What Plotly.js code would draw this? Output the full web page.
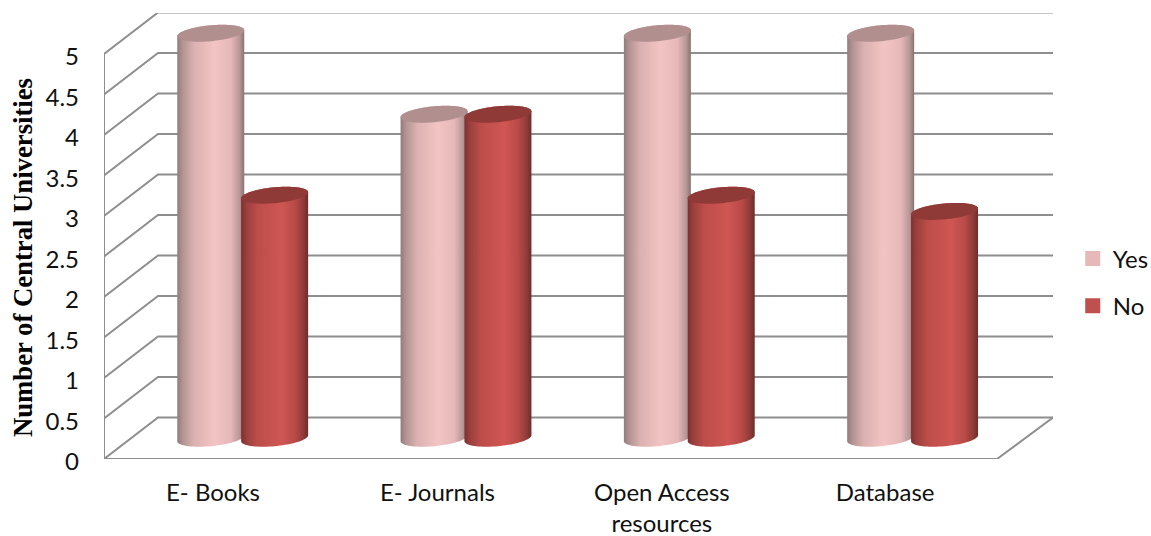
<!DOCTYPE html>
<html>
<head>
<meta charset="utf-8">
<script src="https://cdn.plot.ly/plotly-3.0.1.min.js"></script>
<style>html,body{margin:0;padding:0;background:#fff;overflow:hidden}</style>
</head>
<body>
<div id="chart" style="width:1151px;height:536px"></div>
<script>
// Availability of e-resources across central universities
const categories = ['E- Books', 'E- Journals', 'Open Access<br>resources', 'Database'];
const yesValues = [5, 4, 5, 5];
const noValues = [3, 4, 3, 2.8];
const yTicks = [0, 0.5, 1, 1.5, 2, 2.5, 3, 3.5, 4, 4.5, 5];
const yTickLabels = ['0', '0.5', '1', '1.5', '2', '2.5', '3', '3.5', '4', '4.5', '5'];
const categoryTicks = [0, 1.005, 2.01, 3.01];

// Oblique box: how far the back wall is shifted from the front plane, in axis units
const X_MIN = -0.4881, X_MAX = 3.7617, FRONT_RIGHT = 3.511;
const DEPTH_X = 0.2418, DEPTH_Y = 0.5123;
const WALL_COLOR = '#8e8e8e';

// Cylinder geometry in axis units
const RADIUS_X = 0.15, RADIUS_Y = 0.098, TILT = 0.037;
const BASE_Y = DEPTH_Y / 2;
const YES_OFFSET = -0.01, NO_OFFSET = 0.276;

const yesBody = [[0, '#937b7b'], [0.08, '#b29393'], [0.25, '#dcb1b1'], [0.55, '#f3c4c4'], [0.8, '#e6b8b8'], [0.93, '#b79797'], [1, '#8a7272']];
const noBody = [[0, '#7c312f'], [0.08, '#9a3f3d'], [0.25, '#bd4d4a'], [0.6, '#cf5653'], [0.8, '#b94b48'], [0.93, '#8f3b39'], [1, '#6d2c2a']];
const yesLid = '#b18f8f';
const noLid = '#903a38';

function ellipsePoint(cx, cy, t) {
  return [cx + RADIUS_X * Math.cos(t), cy + RADIUS_Y * Math.sin(t) + TILT * Math.cos(t)];
}

function arc(cx, cy, from, to, steps) {
  const pts = [];
  for (let i = 0; i <= steps; i++) pts.push(ellipsePoint(cx, cy, from + (to - from) * i / steps));
  return pts;
}

function cylinderTraces(cx, value, bodyScale, lidColor) {
  const top = BASE_Y + value;
  const outline = arc(cx, BASE_Y, Math.PI, 2 * Math.PI, 40).concat(arc(cx, top, 0, Math.PI, 40));
  outline.push(outline[0]);
  const lid = arc(cx, top, 0, 2 * Math.PI, 80);
  return [
    {
      type: 'scatter', mode: 'none', fill: 'toself', showlegend: false, hoverinfo: 'skip',
      x: outline.map(p => p[0]), y: outline.map(p => p[1]),
      fillgradient: { type: 'horizontal', colorscale: bodyScale }
    },
    {
      type: 'scatter', mode: 'none', fill: 'toself', showlegend: false, hoverinfo: 'skip',
      x: lid.map(p => p[0]), y: lid.map(p => p[1]), fillcolor: lidColor
    }
  ];
}

function wallLine(x, y) {
  return {
    type: 'scatter', mode: 'lines', showlegend: false, hoverinfo: 'skip', cliponaxis: false,
    x: x, y: y, line: { color: WALL_COLOR, width: 2, shape: 'linear' }
  };
}

const traces = [];

// Left wall and back wall gridlines, one per tick
yTicks.forEach(v => {
  traces.push(wallLine([X_MIN, X_MIN + DEPTH_X, X_MAX], [v, v + DEPTH_Y, v + DEPTH_Y]));
});
traces.push(wallLine([X_MIN, X_MIN], [0, 5]));
// Floor edge
traces.push(wallLine([X_MIN, FRONT_RIGHT, X_MAX], [0, 0, DEPTH_Y]));

// One cylinder per value; the No column sits over its Yes neighbour
categories.forEach((c, i) => {
  traces.push(...cylinderTraces(i + YES_OFFSET, yesValues[i], yesBody, yesLid));
  traces.push(...cylinderTraces(i + NO_OFFSET, noValues[i], noBody, noLid));
});

// Legend keys
traces.push({
  type: 'scatter', mode: 'markers', name: 'Yes', legendgroup: 'yes', x: [null], y: [null],
  marker: { symbol: 'square', size: 15, color: '#e6b8b7' }
});
traces.push({
  type: 'scatter', mode: 'markers', name: 'No', legendgroup: 'no', x: [null], y: [null],
  marker: { symbol: 'square', size: 15, color: '#c0504d' }
});

const layout = {
  width: 1151, height: 536,
  margin: { l: 104, r: 98, t: 13, b: 77, pad: 0 },
  paper_bgcolor: '#fff', plot_bgcolor: 'rgba(0,0,0,0)',
  font: { family: 'Lato, sans-serif', size: 24, color: '#111' },
  hovermode: false,
  xaxis: {
    type: 'linear', range: [X_MIN, X_MAX], showgrid: false, zeroline: false, showline: false,
    tickmode: 'array', tickvals: categoryTicks, ticktext: categories, ticks: '',
    ticklabelstandoff: 17, tickfont: { family: 'Lato, sans-serif', size: 24, color: '#111' }
  },
  yaxis: {
    type: 'linear', range: [0, 5.506], showgrid: false, zeroline: false, showline: false,
    tickmode: 'array', tickvals: yTicks, ticktext: yTickLabels, ticks: '',
    ticklabelstandoff: 24, ticklabelshift: 3, tickfont: { family: 'Lato, sans-serif', size: 24, color: '#111' }
  },
  showlegend: true,
  legend: {
    xref: 'container', yref: 'container',
    x: 0.932, y: 0.559, xanchor: 'left', yanchor: 'top', bgcolor: 'rgba(0,0,0,0)',
    font: { family: 'Lato, sans-serif', size: 24, color: '#111' },
    tracegroupgap: 13, itemclick: false, itemdoubleclick: false
  },
  annotations: [{
    text: '<b>Number of Central Universities</b>', textangle: -90, showarrow: false,
    xref: 'paper', yref: 'paper', x: 0, y: 0.5, xanchor: 'center', yanchor: 'middle',
    xshift: -81, yshift: -22,
    font: { family: 'Liberation Serif, serif', size: 26.7, color: '#000' }
  }]
};

Plotly.newPlot('chart', traces, layout, { displayModeBar: false, staticPlot: true });
</script>
</body>
</html>
